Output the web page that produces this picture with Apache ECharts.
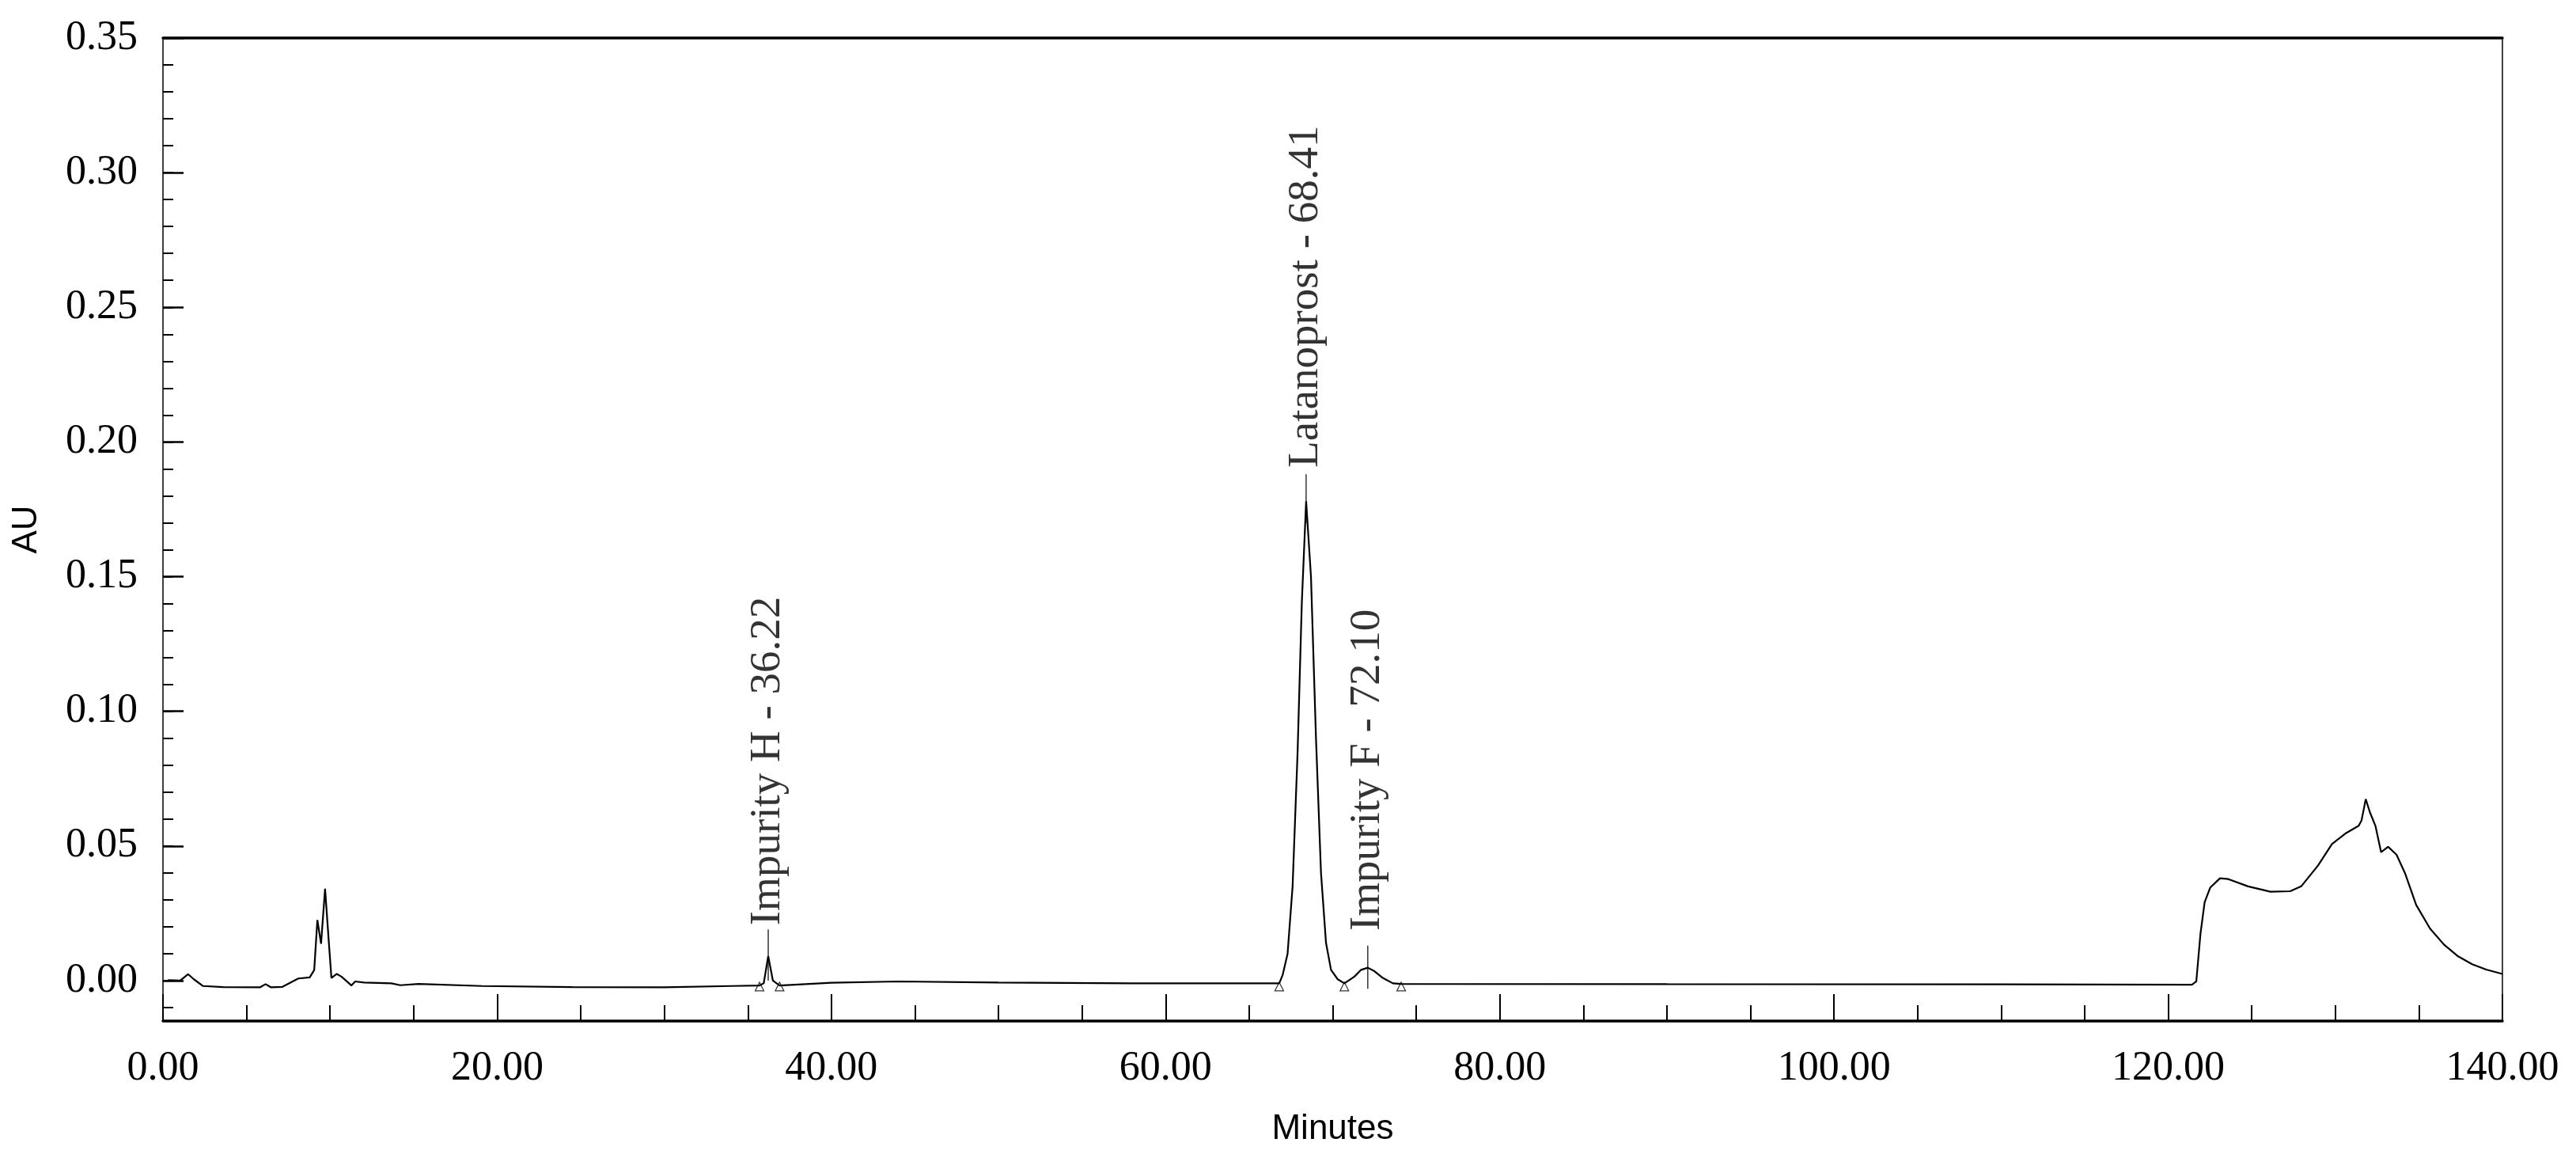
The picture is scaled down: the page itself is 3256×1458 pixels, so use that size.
<!DOCTYPE html>
<html>
<head>
<meta charset="utf-8">
<script src="https://cdn.jsdelivr.net/npm/echarts@6/dist/echarts.min.js"></script>
<style>html,body{margin:0;padding:0;background:#fff}#chart{width:3256px;height:1458px}</style>
</head>
<body>
<div id="chart"></div>
<script>
// chromatogram trace: [minutes, AU]
const trace = [
  [0.3,0.0002],[1.03,0.0],[1.5,0.0024],[1.85,0.0005],[2.4,-0.002],[3.6,-0.0024],[5.8,-0.0025],
  [6.14,-0.0013],[6.47,-0.0025],[7.15,-0.0023],[8.1,0.0008],[8.78,0.0012],[9.05,0.0039],
  [9.24,0.0225],[9.46,0.0137],[9.7,0.0341],[9.92,0.0147],[10.08,0.001],[10.4,0.0025],
  [10.68,0.0015],[11.28,-0.0018],[11.5,-0.0003],[12.04,-0.0007],[13.67,-0.001],[14.2,-0.0017],
  [15.3,-0.0012],[19.1,-0.002],[24.5,-0.0024],[30.0,-0.0025],[34.0,-0.002],[35.7,-0.0018],
  [35.95,-0.001],[36.22,0.0091],[36.5,0.0],[36.9,-0.0018],[40.0,-0.0008],[44.0,-0.0003],
  [50.0,-0.0007],[58.0,-0.001],[66.8,-0.001],[67.0,0.002],[67.3,0.01],[67.6,0.035],[67.9,0.085],
  [68.15,0.14],[68.41,0.178],[68.7,0.15],[69.0,0.09],[69.3,0.04],[69.6,0.014],[69.9,0.004],
  [70.3,0.0005],[70.7,-0.001],[71.3,0.0015],[71.7,0.004],[72.1,0.0048],[72.5,0.0035],
  [73.0,0.001],[73.6,-0.001],[74.1,-0.0012],[90.0,-0.0013],[110.0,-0.0014],[121.42,-0.0015],
  [121.68,-0.0003],[121.93,0.0174],[122.18,0.0291],[122.51,0.0345],[123.1,0.038],[123.6,0.0377],
  [124.78,0.035],[126.12,0.033],[127.3,0.0332],[127.96,0.035],[128.97,0.0428],[129.8,0.0507],
  [130.65,0.0548],[131.4,0.0575],[131.57,0.0595],[131.82,0.0674],[132.07,0.0625],[132.4,0.0575],
  [132.74,0.0477],[133.16,0.0497],[133.66,0.0468],[134.17,0.0399],[134.84,0.0281],[135.67,0.0193],
  [136.5,0.0134],[137.35,0.009],[138.19,0.0061],[139.03,0.0041],[140.0,0.0025]
];
// peak names, retention times, label base and marker line ends
const peakNames = ['Impurity H - 36.22','Latanoprost - 68.41','Impurity F - 72.10'];
const peakTimes = [36.22, 68.41, 72.10];
const labelBase = [0.0205, 0.1905, 0.0185];
const lineFrom = [0.0, 0.17, -0.003];
const lineTo = [0.019, 0.188, 0.013];
// peak start / end markers
const markerTimes = [35.7, 36.9, 66.8, 70.7, 74.1];
const markerValue = -0.0022;

const yTicks = [0,0.05,0.10,0.15,0.20,0.25,0.30,0.35];
const yMinor = [];
for (let i = -1; i <= 35; i++) yMinor.push(+(i*0.01).toFixed(2));

const serif = 'Liberation Serif';
const sans = 'Liberation Sans';

let chart = echarts.init(document.getElementById('chart'));
let series = [
  {type:'line', data:trace, symbol:'none', lineStyle:{color:'#000', width:2.2}, animation:false, z:5}
];
peakTimes.forEach((t,i)=>{
  series.push({type:'line', data:[[t,lineFrom[i]],[t,lineTo[i]]], symbol:'none',
    lineStyle:{color:'#000', width:1.2}, animation:false});
});
series.push({
  type:'scatter', symbolSize:0, animation:false,
  data: peakTimes.map((t,i)=>({value:[t,labelBase[i]], name:peakNames[i]})),
  label:{show:true, position:'inside', rotate:90, align:'left', verticalAlign:'middle',
    formatter:p=>p.name, fontFamily:serif, fontSize:55, color:'#000'}
});
series.push({
  type:'scatter', symbol:'triangle', symbolSize:11, animation:false,
  data: markerTimes.map(t=>[t,markerValue]),
  itemStyle:{color:'#fff', borderColor:'#000', borderWidth:1.2}
});

let option = {
  backgroundColor:'#fff',
  grid:{left:206, right:93, top:48, bottom:168},
  xAxis:[{
    type:'value', min:0, max:140, interval:20,
    name:'Minutes', nameLocation:'middle', nameGap:115,
    nameTextStyle:{fontFamily:sans, fontSize:44, color:'#000'},
    axisLine:{onZero:false, lineStyle:{color:'#000', width:3.5}},
    axisTick:{inside:true, length:34, lineStyle:{color:'#000', width:2}},
    minorTick:{show:true, splitNumber:4, length:20, lineStyle:{color:'#000', width:2}},
    splitLine:{show:false},
    axisLabel:{fontFamily:serif, fontSize:52, color:'#000', margin:34, formatter:v=>v.toFixed(2)}
  },{
    type:'value', min:0, max:140, position:'top',
    axisLine:{show:true, onZero:false, lineStyle:{color:'#000', width:3.5}},
    axisTick:{show:false}, axisLabel:{show:false}, splitLine:{show:false}
  }],
  yAxis:[{
    type:'value', min:-0.015, max:0.35,
    name:'AU', nameLocation:'middle', nameGap:150, nameRotate:90,
    nameTextStyle:{fontFamily:sans, fontSize:44, color:'#000'},
    axisLine:{show:true, onZero:false, lineStyle:{color:'#000', width:1.5}},
    axisTick:{show:true, inside:true, length:26, customValues:yTicks, lineStyle:{color:'#000', width:2.5}},
    splitLine:{show:false},
    axisLabel:{fontFamily:serif, fontSize:52, color:'#000', margin:32, customValues:yTicks,
      formatter:v=>v.toFixed(2)}
  },{
    type:'value', min:-0.015, max:0.35, position:'left',
    axisLine:{show:false, onZero:false},
    axisTick:{show:true, inside:true, length:13, customValues:yMinor, lineStyle:{color:'#000', width:2}},
    axisLabel:{show:false}, splitLine:{show:false}
  },{
    type:'value', min:-0.015, max:0.35, position:'right',
    axisLine:{show:true, onZero:false, lineStyle:{color:'#000', width:1.5}},
    axisTick:{show:false}, axisLabel:{show:false}, splitLine:{show:false}
  }],
  series:series
};
chart.setOption(option);
</script>
</body>
</html>
